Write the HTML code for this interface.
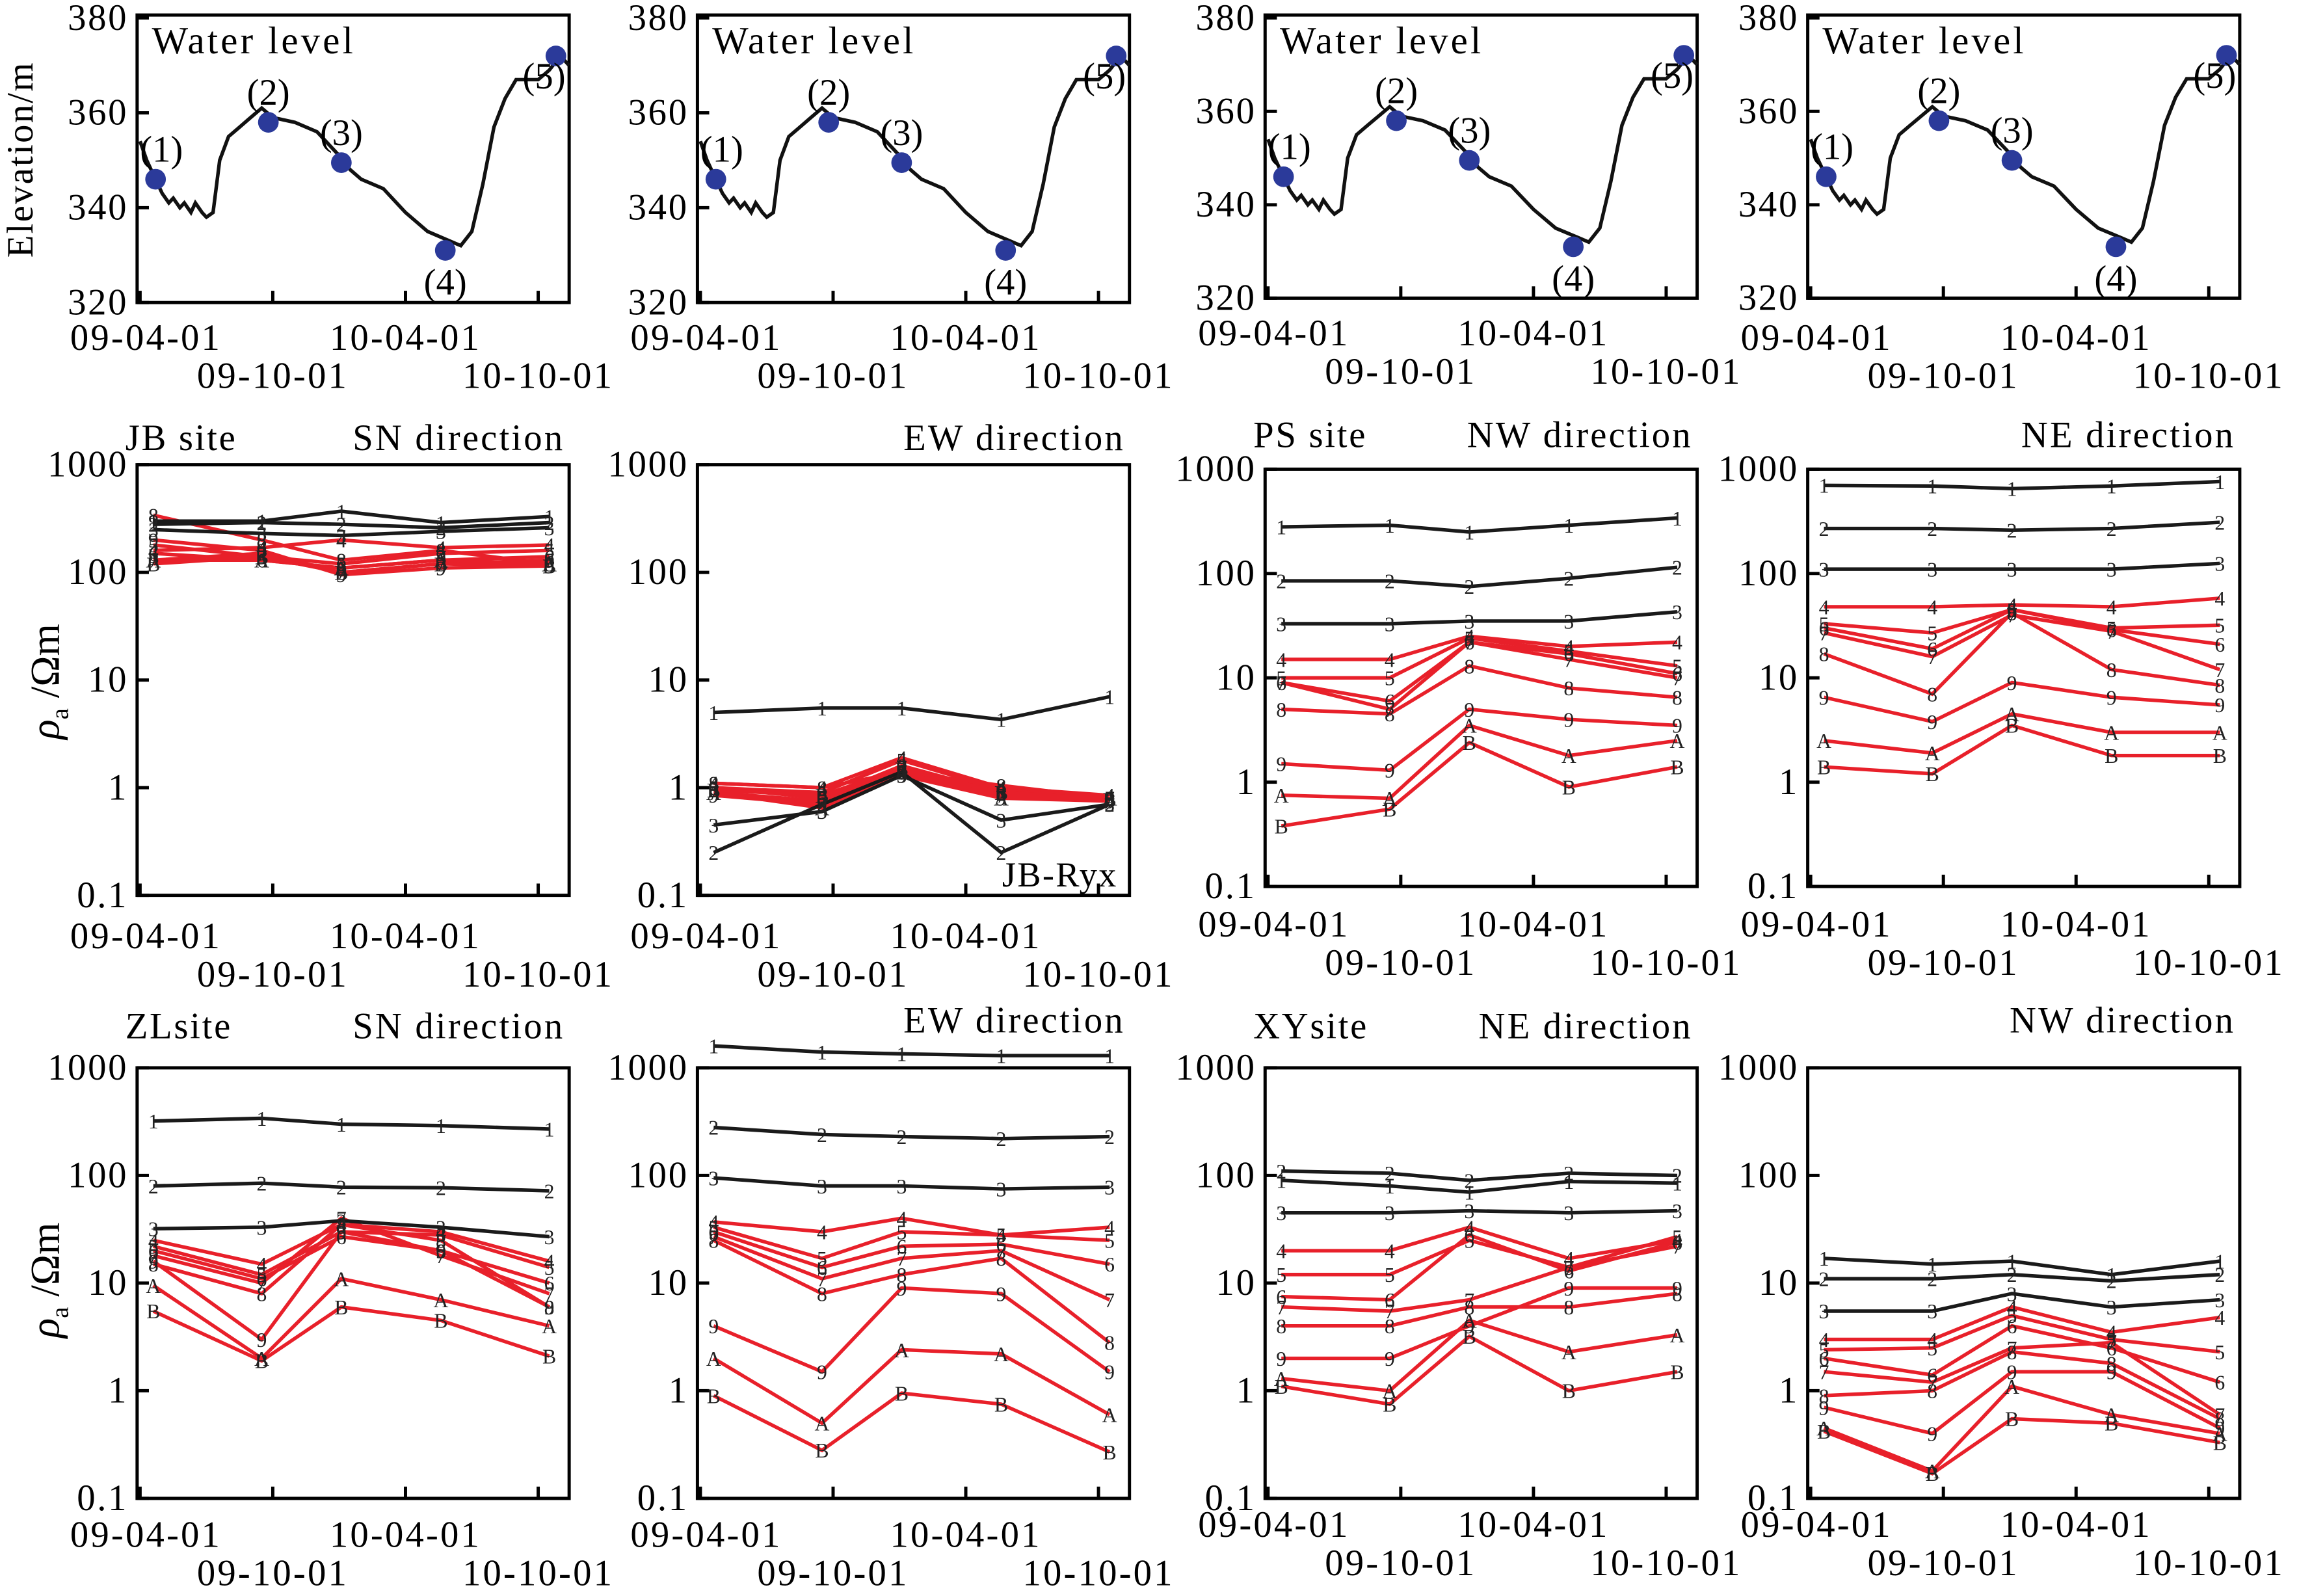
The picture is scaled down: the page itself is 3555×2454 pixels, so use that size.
<!DOCTYPE html>
<html><head><meta charset="utf-8"><style>
html,body{margin:0;padding:0;background:#fff;}
svg{display:block;font-family:"Liberation Serif",serif;}
</style></head><body>
<svg id="fig" width="3555" height="2454" viewBox="0 0 1568 1082" xmlns="http://www.w3.org/2000/svg"></svg>
<script>
const NS="http://www.w3.org/2000/svg";
const svg=document.getElementById('fig');
// ---------- data ----------
const dateTicks=["09-04-01","09-10-01","10-04-01","10-10-01"];
const dateTickMonths=[0,6,12,18];
const elevTicks=[320,340,360,380];
const rhoTicks=[0.1,1,10,100,1000];
const rhoTickLabels=["0.1","1","10","100","1000"];
const seriesNames=["1","2","3","4","5","6","7","8","9","A","B"];
const sampleMonths=[0.6,5.5,9.1,13.6,18.5];
const levelMonths=[0,0.3,0.7,1,1.3,1.5,1.8,2,2.3,2.5,2.8,3,3.3,3.6,4,4.5,5,5.5,6,7,8,9,9.5,10,11,12,13,14,14.5,15,15.5,16,16.5,17,18,18.5,19,19.4];
const levelElev=[354,350,346,343,341,342,340,341,339,341,339,338,339,350,355,357,359,361,359,358,356,351,348,346,344,339,335,333,332,335,345,357,363,367,367,369,372,370];
const dotMonths=[0.7,5.8,9.1,13.8,18.8];
const dotElev=[346,358,349.5,331,372];
const dotLabels=["(1)","(2)","(3)","(4)","(5)"];
const jbSN=[[300,300,370,290,330],[280,290,280,260,290],[250,230,220,240,260],[160,170,200,170,180],[180,140,120,150,160],[150,130,110,130,140],[130,150,100,120,130],[340,200,130,160,120],[200,160,95,110,115],[130,130,110,130,120],[120,140,100,120,115]];
const jbEW=[[5,5.5,5.5,4.3,7],[0.25,0.7,1.4,0.25,0.7],[0.45,0.6,1.3,0.5,0.7],[1.1,1,1.9,1,0.85],[1,0.9,1.8,0.95,0.8],[1,0.8,1.6,0.9,0.8],[0.9,0.75,1.5,0.85,0.8],[1.1,1,1.4,1.05,0.8],[0.85,0.7,1.3,0.8,0.75],[0.9,0.65,1.4,0.8,0.8],[0.95,0.85,1.5,0.9,0.78]];
const psNW=[[280,290,250,290,340],[85,85,75,90,115],[33,33,35,35,43],[15,15,25,20,22],[10,10,24,18,13],[9,6,22,17,11],[9,5,22,15,10],[5,4.5,13,8,6.5],[1.5,1.3,5,4,3.5],[0.75,0.7,3.5,1.8,2.5],[0.38,0.55,2.4,0.9,1.4]];
const psNE=[[700,690,650,690,760],[270,270,260,270,310],[110,110,110,110,125],[48,48,50,48,58],[33,27,45,30,32],[30,19,45,29,21],[27,16,40,28,12],[17,7,42,12,8.5],[6.5,3.8,9,6.5,5.5],[2.5,1.9,4.5,3,3],[1.4,1.2,3.5,1.8,1.8]];
const zlSN=[[320,340,300,290,270],[80,85,78,77,72],[32,33,38,33,27],[25,15,35,30,16],[22,12,30,28,14],[20,11,27,20,10],[18,10,40,18,8],[15,8,35,25,6],[16,3,30,20,6],[9.5,2,11,7,4],[5.5,1.9,6,4.5,2.1]];
const zlEW=[[1600,1400,1350,1300,1300],[280,240,230,220,230],[95,80,80,75,78],[37,30,40,28,33],[33,17,30,28,25],[30,14,22,23,15],[27,11,17,20,7],[25,8,12,17,2.8],[4,1.5,9,8,1.5],[2,0.5,2.4,2.2,0.6],[0.9,0.28,0.95,0.75,0.27]];
const xyNE=[[90,80,70,88,85],[110,105,90,105,100],[45,45,47,45,47],[20,20,33,17,25],[12,12,25,14,27],[7.5,7,28,13,24],[6,5.5,7,14,22],[4,4,6,6,8],[2,2,4,9,9],[1.3,1,4.5,2.3,3.3],[1.1,0.75,3.2,1,1.5]];
const xyNW=[[17,15,16,12,16],[11,11,12,10.5,12],[5.5,5.5,8,6,7],[3,3,6,3.5,4.8],[2.4,2.5,5,3,2.3],[2,1.4,4,2.5,1.2],[1.5,1.2,2.5,2.8,0.6],[0.9,1,2.3,1.8,0.55],[0.7,0.4,1.5,1.5,0.45],[0.45,0.18,1.1,0.6,0.4],[0.42,0.17,0.55,0.5,0.33]];

function el(tag,attrs,parent){const e=document.createElementNS(NS,tag);for(const k in attrs)e.setAttribute(k,attrs[k]);(parent||svg).appendChild(e);return e;}
function txt(x,y,s,size,anchor,parent,ls){const t=el('text',{x:x,y:y,'font-size':size,'text-anchor':anchor||'middle'},parent);if(ls)t.setAttribute('letter-spacing',ls);t.textContent=s;return t;}

const W=293, MPX=15;
const lefts=[93,473,858,1226];

function dateAxis(g,x0,y1,labY){
  dateTicks.forEach((d,i)=>{
    const x=x0+dateTickMonths[i]*MPX+2;
    el('line',{x1:x,y1:y1,x2:x,y2:y1-8,stroke:'#000','stroke-width':2.2},g);
    const t=txt(x+(i==0?4:0),labY+(i%2?26:0),d,25,'middle',g,1.4);
    
    
  });
}

// ---- top row: water level ----
lefts.forEach((x0,p)=>{
  const g=el('g',{});
  
  
  const top=12, bot=(p<2?205:202);
  const ey=v=>bot-(v-320)/60*(bot-top);
  const mx=m=>x0+m*MPX+2;
  el('rect',{x:x0,y:top-2,width:W,height:bot-top+2,fill:'none',stroke:'#000','stroke-width':2.2},g);
  elevTicks.forEach(v=>{
    el('line',{x1:x0,y1:ey(v),x2:x0+8,y2:ey(v),stroke:'#000','stroke-width':2.2},g);
    const t=txt(x0-6,ey(v)+8,String(v),25,'end',g,1.2);
    
    
  });
  const d=levelMonths.map((m,i)=>(i?'L':'M')+mx(m).toFixed(1)+' '+ey(levelElev[i]).toFixed(1)).join(' ');
  const path=el('path',{d:d,fill:'none',stroke:'#111','stroke-width':2.4},g);
  
  
  dotMonths.forEach((m,i)=>{
    const c=el('circle',{cx:mx(m),cy:ey(dotElev[i]),r:7,fill:'#2b3a9a'},g);
    
    
    const above=(i!=3);
    const dx=(i==4?-8:0);
    txt(mx(m)+dx+(i==0?4:0),ey(dotElev[i])+(above?-12:30)+(i==4?34:0),dotLabels[i],25,'middle',g);
  });
  const t=txt(x0+10,top+24,'Water level',26,'start',g,1.8);
  
  
  dateAxis(g,x0,bot,(p==2?234:237));
});
const yl=el('text',{x:0,y:0,'font-size':25,'letter-spacing':1,'text-anchor':'middle',transform:'translate(22,108) rotate(-90)'});
yl.textContent='Elevation/m';



// ---- rho panels ----
function rhoPanel(x0,top,bot,data,titleL,titleR,titleY,labY,extra){
  const g=el('g',{});
  
  
  const ry=v=>bot-(Math.log10(v)+1)/4*(bot-top);
  const mx=m=>x0+m*MPX+2;
  el('rect',{x:x0,y:top,width:W,height:bot-top,fill:'none',stroke:'#000','stroke-width':2.2},g);
  rhoTicks.forEach((v,i)=>{
    el('line',{x1:x0,y1:ry(v),x2:x0+8,y2:ry(v),stroke:'#000','stroke-width':2.2},g);
    const t=txt(x0-6,ry(v)+8,rhoTickLabels[i],25,'end',g,1.2);
    
    
  });
  const order=[3,4,5,6,7,8,9,10,0,1,2];
  order.forEach(s=>{
    const vals=data[s];
    const col=s<3?'#1a1a1a':'#e8202a';
    const pts=vals.map((v,i)=>mx(sampleMonths[i]).toFixed(1)+','+ry(v).toFixed(1)).join(' ');
    const pl=el('polyline',{points:pts,fill:'none',stroke:col,'stroke-width':2.4},g);
    
    
  });
  order.forEach(s=>{
    data[s].forEach((v,i)=>{
      const t=txt(mx(sampleMonths[i]),ry(v)+5,seriesNames[s],14,'middle',g);
      t.setAttribute('fill','#222');
    });
  });
  if(titleL){const t=txt(x0-8,titleY,titleL,25,'start',g,1.2);}
  const tr=txt(x0+W-3,titleY,titleR,25,'end',g,1.4);
  
  
  if(extra){txt(x0+W-8,bot-6,extra,24,'end',g,1);}
  dateAxis(g,x0,bot,labY);
}
rhoPanel(lefts[0],315,607,jbSN,'JB site','SN direction',305,643);
rhoPanel(lefts[1],315,607,jbEW,null,'EW direction',305,643,'JB-Ryx');
rhoPanel(lefts[2],318,601,psNW,'PS site','NW direction',303,635);
rhoPanel(lefts[3],318,601,psNE,null,'NE direction',303,635);
rhoPanel(lefts[0],724,1016,zlSN,'ZLsite','SN direction',704,1049);
rhoPanel(lefts[1],724,1016,zlEW,null,'EW direction',700,1049);
rhoPanel(lefts[2],724,1016,xyNE,'XYsite','NE direction',704,1042);
rhoPanel(lefts[3],724,1016,xyNW,null,'NW direction',700,1042);
[462,868].forEach(cy=>{
  const t=el('text',{x:0,y:0,'font-size':28,'text-anchor':'middle',transform:'translate(40,'+cy+') rotate(-90)'});
  
  
  const a=el('tspan',{'font-style':'italic'},t);a.textContent='ρ';
  const b=el('tspan',{'font-size':17,dy:6},t);b.textContent='a';
  const c=el('tspan',{dy:-6},t);c.textContent=' /Ωm';
});
</script>
</body></html>
